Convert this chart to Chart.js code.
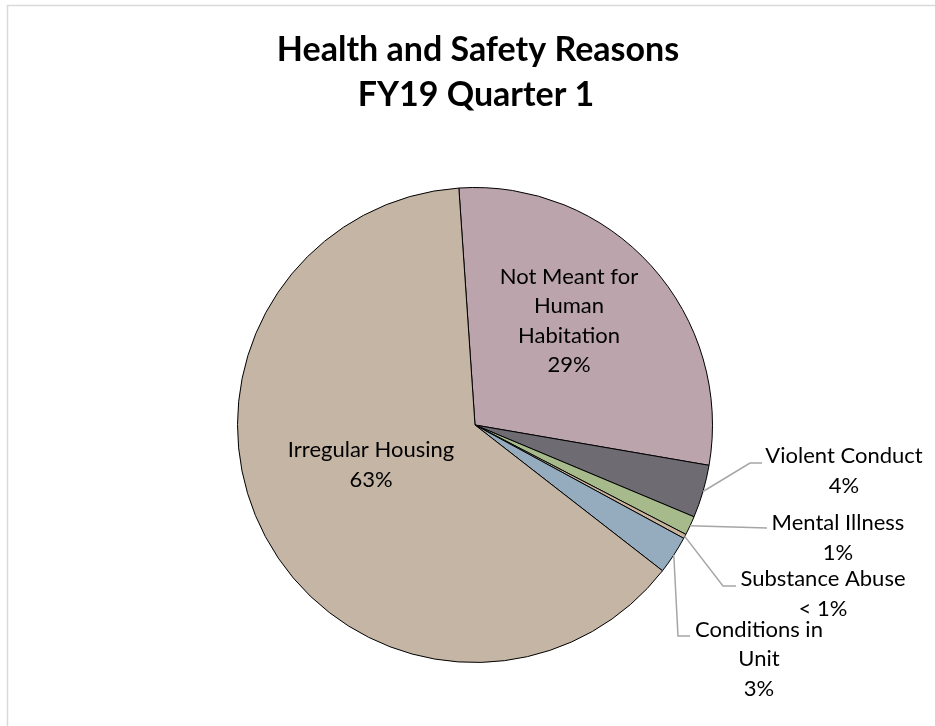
<!DOCTYPE html>
<html>
<head>
<meta charset="utf-8">
<script src="https://cdn.jsdelivr.net/npm/chart.js@4/dist/chart.umd.min.js"></script>
<style>
  html, body { margin: 0; padding: 0; background: #ffffff; }
  #wrap { width: 935px; height: 726px; position: relative; }
</style>
</head>
<body>
<div id="wrap"><canvas id="c" width="935" height="726"></canvas></div>
<script>
// ---- Data ----
const categories = ['Not Meant for Human Habitation', 'Violent Conduct', 'Mental Illness', 'Substance Abuse', 'Conditions in Unit', 'Irregular Housing'];
const shares = [28.8, 3.6, 1.3, 0.3, 2.6, 63.4];
const percentLabels = ['29%', '4%', '1%', '< 1%', '3%', '63%'];
const labelLines = [['Not Meant for', 'Human', 'Habitation'], ['Violent Conduct'], ['Mental Illness'], ['Substance Abuse'], ['Conditions in', 'Unit'], ['Irregular Housing']];
const sliceColors = ['#BBA4AC', '#6E6C72', '#A6BA8B', '#C9B59E', '#94ACBE', '#C5B5A5'];
const titleLines = ['Health and Safety Reasons', 'FY19 Quarter 1'];

// ---- Label layout (relative to pie centre, px) ----
const labelLayout = [
  { inside: true, tx: 94, ty: -104 },
  { inside: false, elbow: [275, 38], end: [287, 38], tx: 369, ty: 46 },
  { inside: false, elbow: [292, 103], end: [292, 103], tx: 363, ty: 113 },
  { inside: false, elbow: [248, 161], end: [261, 161], tx: 348, ty: 169 },
  { inside: false, elbow: [203, 211], end: [215, 211], tx: 284, ty: 234 },
  { inside: true, tx: -104, ty: 40 }
];

const FONT = 'Lato, Carlito, Calibri, "Liberation Sans", sans-serif';
const LINE_H = 29.5;

const framePlugin = {
  id: 'frame',
  beforeDraw(chart) {
    const ctx = chart.ctx;
    ctx.save();
    ctx.strokeStyle = '#D9D9D9';
    ctx.lineWidth = 1.5;
    ctx.beginPath();
    ctx.moveTo(7.5, 726);
    ctx.lineTo(7.5, 5.5);
    ctx.lineTo(935, 5.5);
    ctx.stroke();
    // title
    ctx.fillStyle = '#000000';
    ctx.textAlign = 'center';
    ctx.textBaseline = 'middle';
    ctx.font = 'bold 34px ' + FONT;
    ctx.fillText(titleLines[0], 478, 50);
    ctx.fillText(titleLines[1], 476, 95);
    ctx.restore();
  }
};

const labelPlugin = {
  id: 'sliceLabels',
  afterDatasetsDraw(chart) {
    const ctx = chart.ctx;
    const meta = chart.getDatasetMeta(0);
    ctx.save();
    ctx.font = '22px ' + FONT;
    ctx.fillStyle = '#000000';
    ctx.textAlign = 'center';
    ctx.textBaseline = 'middle';
    meta.data.forEach((arc, i) => {
      const p = arc.getProps(['x', 'y', 'startAngle', 'endAngle', 'outerRadius'], true);
      const cfg = labelLayout[i];
      const lines = labelLines[i].concat([percentLabels[i]]);
      if (!cfg.inside) {
        const mid = (p.startAngle + p.endAngle) / 2;
        const sx = p.x + Math.cos(mid) * p.outerRadius;
        const sy = p.y + Math.sin(mid) * p.outerRadius;
        ctx.strokeStyle = '#A6A6A6';
        ctx.lineWidth = 1.5;
        ctx.beginPath();
        ctx.moveTo(sx, sy);
        ctx.lineTo(p.x + cfg.elbow[0], p.y + cfg.elbow[1]);
        ctx.lineTo(p.x + cfg.end[0], p.y + cfg.end[1]);
        ctx.stroke();
      }
      const cx = p.x + cfg.tx;
      const cy = p.y + cfg.ty;
      const top = cy - (lines.length - 1) * LINE_H / 2;
      lines.forEach((t, k) => ctx.fillText(t, cx, top + k * LINE_H));
    });
    ctx.restore();
  }
};

function build() {
  new Chart(document.getElementById('c'), {
    type: 'pie',
    data: {
      labels: categories,
      datasets: [{
        data: shares,
        backgroundColor: sliceColors,
        borderColor: '#000000',
        borderWidth: 1,
        borderAlign: 'center'
      }]
    },
    options: {
      responsive: false,
      animation: false,
      rotation: -3.9,
      layout: { padding: { left: 237, right: 222, top: 187, bottom: 63 } },
      plugins: {
        legend: { display: false },
        title: { display: false },
        tooltip: { enabled: false }
      }
    },
    plugins: [framePlugin, labelPlugin]
  });
}

if (document.fonts && document.fonts.load) {
  Promise.all([
    document.fonts.load('22px Lato'),
    document.fonts.load('bold 34px Lato')
  ]).then(build, build);
} else {
  build();
}
</script>
</body>
</html>
